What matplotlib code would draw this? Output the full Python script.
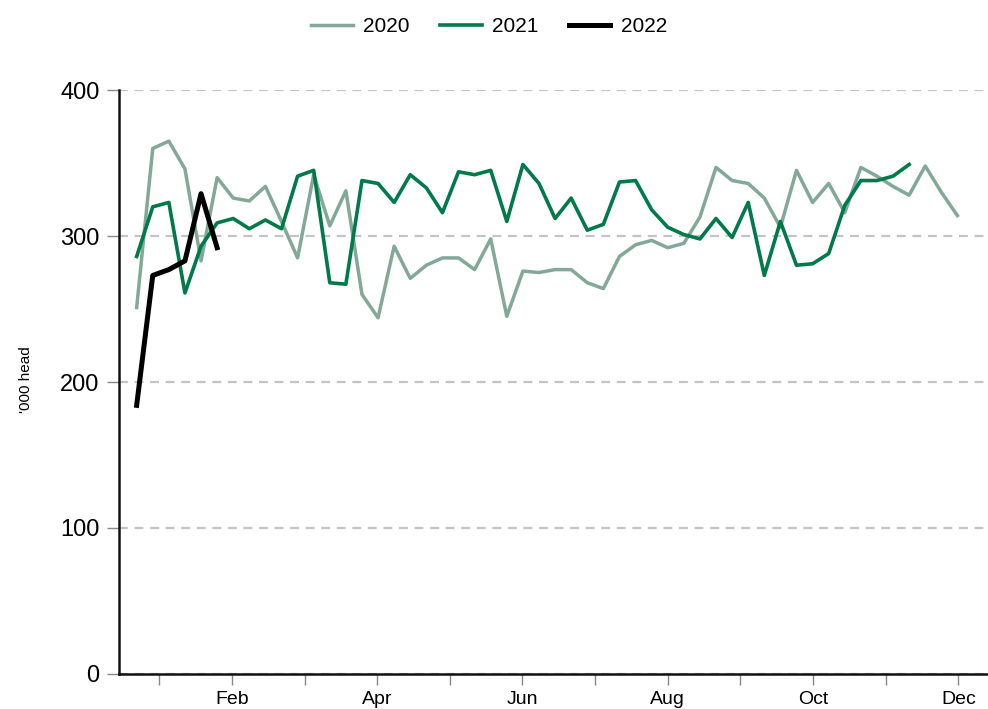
import numpy as np
import matplotlib
matplotlib.use("Agg")
import matplotlib.pyplot as plt

plt.rcParams['font.family'] = ['Liberation Sans', 'DejaVu Sans']

# weekly slaughter, '000 head
y2020 = [251, 360, 365, 346, 283, 340, 326, 324, 334, 310,
         285, 342, 307, 331, 260, 244, 293, 271, 280, 285,
         285, 277, 298, 245, 276, 275, 277, 277, 268, 264,
         286, 294, 297, 292, 295, 313, 347, 338, 336, 326,
         306, 345, 323, 336, 316, 347, 341, 334, 328, 348,
         330, 314]
y2021 = [286, 320, 323, 261, 293, 309, 312, 305, 311, 305,
         341, 345, 268, 267, 338, 336, 323, 342, 333, 316,
         344, 342, 345, 310, 349, 336, 312, 326, 304, 308,
         337, 338, 318, 306, 301, 298, 312, 299, 323, 273,
         310, 280, 281, 288, 321, 338, 338, 341, 349]
y2022 = [184, 273, 277, 283, 329, 292]

months = ["Jan", "Feb", "Mar", "Apr", "May", "Jun",
          "Jul", "Aug", "Sep", "Oct", "Nov", "Dec"]

fig = plt.figure(figsize=(9.88, 7.09), dpi=100)
ax = fig.add_axes([0.1204, 0.0494, 0.8796, 0.8236])

ax.plot(np.arange(1, len(y2020) + 1), y2020, color="#82a898", lw=2.5, label="2020")
ax.plot(np.arange(1, len(y2021) + 1), y2021, color="#007a4a", lw=2.6, label="2021")
ax.plot(np.arange(1, len(y2022) + 1), y2022, color="black", lw=3.6, label="2022")

ax.set_xlim(-0.1, 53.9)
ax.set_ylim(0, 400)

tick_pos = 2.4 + 4.515 * np.arange(12)
ax.set_xticks(tick_pos)
ax.set_xticklabels([m if i % 2 == 1 else "" for i, m in enumerate(months)], fontsize=14)
ax.set_yticks([0, 100, 200, 300, 400])
ax.tick_params(axis="y", labelsize=17, length=9, color="#888888", width=1, pad=5)
ax.tick_params(axis="x", length=8, color="#888888", width=1, pad=4)

ax.grid(axis="y", ls=(0, (4, 3)), color="#c4c4c4", lw=1.6)
ax.set_axisbelow(True)
for s in ["top", "right"]:
    ax.spines[s].set_visible(False)
for s in ["left", "bottom"]:
    ax.spines[s].set_linewidth(1.8)
    ax.spines[s].set_color("#111111")

fig.text(26 / 988, 1 - 380 / 709, "'000 head", fontsize=11, rotation=90,
         ha="center", va="center")

fig.legend(loc="center", bbox_to_anchor=(0.495, 1 - 27 / 709), ncol=3, frameon=False,
           fontsize=15, handlelength=2.0, columnspacing=1.45, handletextpad=0.5)

fig.savefig("out.png", dpi=100)
